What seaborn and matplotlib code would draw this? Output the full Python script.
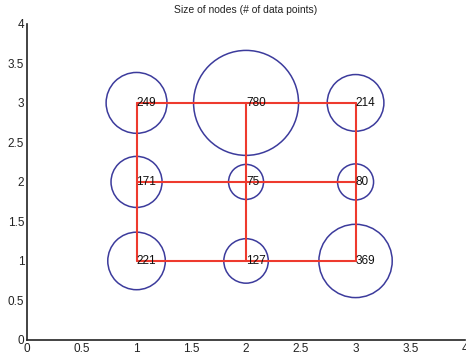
import matplotlib
matplotlib.use("Agg")
import matplotlib.pyplot as plt
import seaborn as sns
import pandas as pd
import numpy as np

# Data: 3x3 map, node positions and number of data points per node
node_x = [1, 2, 3, 1, 2, 3, 1, 2, 3]
node_y = [3, 3, 3, 2, 2, 2, 1, 1, 1]
counts = [249, 780, 214, 171, 75, 80, 221, 127, 369]
grid_cols = [1, 2, 3]
grid_rows = [1, 2, 3]

df = pd.DataFrame({"x": node_x, "y": node_y, "n": counts})

sns.set_style("white")
plt.rcParams["font.family"] = ["Liberation Sans", "DejaVu Sans"]

fig = plt.figure(figsize=(4.66, 3.56), dpi=100)
ax = fig.add_axes([0.058, 0.045, 0.94, 0.888])

# neighbour links
for r in grid_rows:
    ax.plot([grid_cols[0], grid_cols[-1]], [r, r], color="#ee3a2e", lw=1.5, zorder=3)
for c in grid_cols:
    ax.plot([c, c], [grid_rows[0], grid_rows[-1]], color="#ee3a2e", lw=1.5, zorder=3)

# node circles, radius grows with sqrt(count)
def marker_area(n):
    r_px = 1.77 + 1.816 * np.sqrt(n)
    return (2 * r_px * 0.72) ** 2

sizes = {n: marker_area(n) for n in counts}
sns.scatterplot(data=df, x="x", y="y", size="n", sizes=sizes, legend=False,
                facecolors="none", edgecolor="#3c3b9c", linewidth=1.1,
                ax=ax, zorder=2)

for xi, yi, n in zip(node_x, node_y, counts):
    ax.text(xi, yi, str(n), fontsize=8.5, ha="left", va="center", color="#111111", zorder=4)

ticks = [0, 0.5, 1, 1.5, 2, 2.5, 3, 3.5, 4]
tick_labels = ["0", "0.5", "1", "1.5", "2", "2.5", "3", "3.5", "4"]
ax.set_xlim(0, 4)
ax.set_ylim(0, 4)
ax.set_xticks(ticks)
ax.set_yticks(ticks)
ax.set_xticklabels(tick_labels)
ax.set_yticklabels(tick_labels)
ax.set_xlabel("")
ax.set_ylabel("")
ax.tick_params(direction="in", length=3, width=1, labelsize=8.5, pad=2, colors="#222222")
for s in ["top", "right"]:
    ax.spines[s].set_visible(False)
for s in ["left", "bottom"]:
    ax.spines[s].set_color("#222222")
    ax.spines[s].set_linewidth(1.2)
ax.set_title("Size of nodes (# of data points)", fontsize=7.5, color="#222222", pad=8)

fig.savefig("out.png", dpi=100)
